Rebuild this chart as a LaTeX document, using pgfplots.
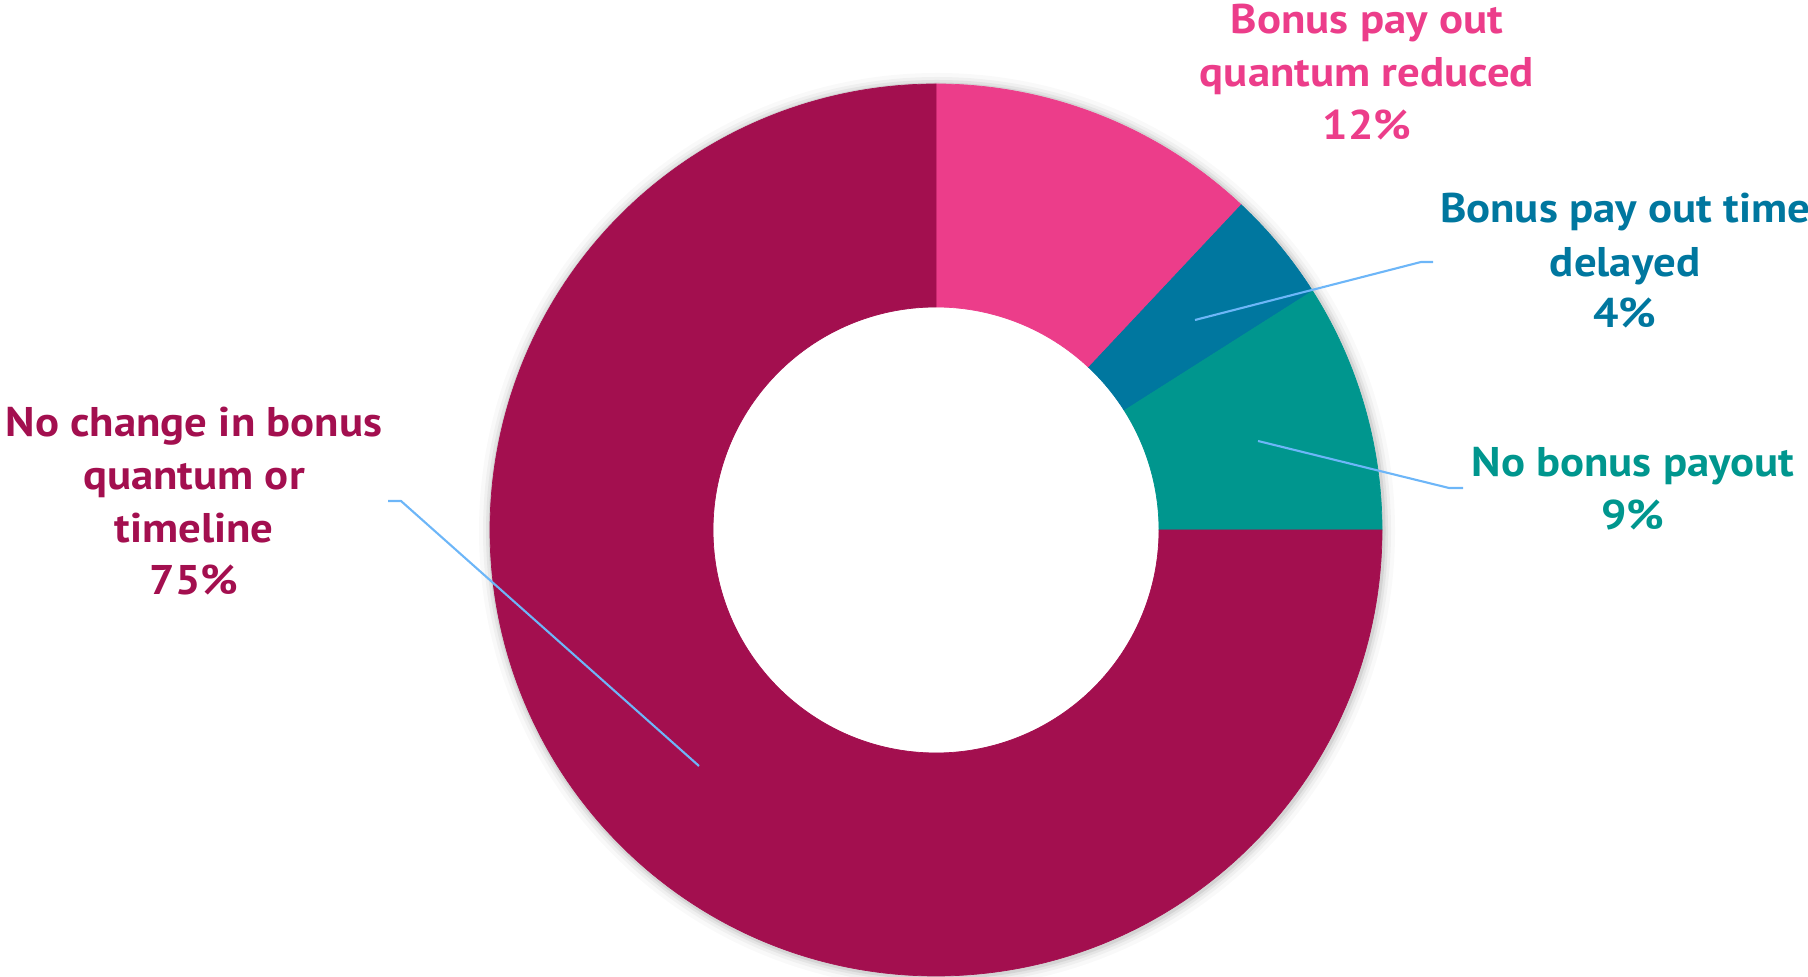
\documentclass[border=0pt]{standalone}
\usepackage{pgfplots}
\pgfplotsset{compat=1.18}
\usepackage{pgfplotstable}
\usepackage{fontspec}
\setmainfont[FakeStretch=1.08]{PT Sans}
\definecolor{cPink}{HTML}{EC3D8A}
\definecolor{cBlue}{HTML}{00779F}
\definecolor{cTeal}{HTML}{00968E}
\definecolor{cMag}{HTML}{A30F4F}
\definecolor{cLead}{HTML}{6DB6F8}
\pgfplotstableread{
value col
12 cPink
4 cBlue
9 cTeal
75 cMag
}\pietable
\begin{document}
\begin{tikzpicture}
\begin{axis}[name=ax, width=18.08cm, height=9.76cm, scale only axis,
  xmin=0, xmax=1808, ymin=0, ymax=976, hide axis, clip=false]
% soft shadow
\fill[black, opacity=0.025] (axis cs:937,445) circle[radius=4.58cm];
\fill[black, opacity=0.035] (axis cs:937,445) circle[radius=4.54cm];
\fill[black, opacity=0.05] (axis cs:937,445) circle[radius=4.51cm];
\fill[black, opacity=0.07] (axis cs:937,445) circle[radius=4.485cm];
\fill[white] (axis cs:936,446) circle[radius=4.46cm];
\def\cum{0}
\pgfplotsforeachungrouped \i in {0,...,3}{%
  \pgfplotstablegetelem{\i}{value}\of\pietable \let\v\pgfplotsretval
  \pgfplotstablegetelem{\i}{col}\of\pietable \let\c\pgfplotsretval
  \pgfmathsetmacro\sa{90-3.6*\cum}%
  \pgfmathsetmacro\ea{90-3.6*(\cum+\v)}%
  \pgfmathsetmacro\cum{\cum+\v}%
  \edef\temp{\noexpand\fill[\c, draw=\c, line width=0.2pt] (axis cs:936,446) ++(\sa:4.46cm) arc[start angle=\sa, end angle=\ea, radius=4.46cm] -- ++(\ea+180:2.23cm) arc[start angle=\ea, end angle=\sa, radius=2.23cm] -- cycle;}%
  \temp
}
% leader lines
\draw[cLead, line width=0.6pt] (axis cs:1195,656) -- (axis cs:1421,714) -- (axis cs:1433,714);
\draw[cLead, line width=0.6pt] (axis cs:1258,535) -- (axis cs:1449,488) -- (axis cs:1463,488);
\draw[cLead, line width=0.6pt] (axis cs:699,210) -- (axis cs:401,475) -- (axis cs:388,475);
% labels
\tikzset{lab/.style={anchor=base, inner sep=0pt, font=\bfseries\fontsize{11.8}{13}\selectfont}}
\node[lab, text=cPink] at (axis cs:1367,942) {Bonus pay out};
\node[lab, text=cPink] at (axis cs:1367,889) {quantum reduced};
\node[lab, text=cPink] at (axis cs:1367,836) {12\%};
\node[lab, text=cBlue] at (axis cs:1625,753) {Bonus pay out time};
\node[lab, text=cBlue] at (axis cs:1625,699) {delayed};
\node[lab, text=cBlue] at (axis cs:1625,648) {4\%};
\node[lab, text=cTeal] at (axis cs:1633,499) {No bonus payout};
\node[lab, text=cTeal] at (axis cs:1633,446) {9\%};
\node[lab, text=cMag] at (axis cs:194,539) {No change in bonus};
\node[lab, text=cMag] at (axis cs:194,486) {quantum or};
\node[lab, text=cMag] at (axis cs:194,433) {timeline};
\node[lab, text=cMag] at (axis cs:194,381) {75\%};
\end{axis}
\pgfresetboundingbox
\path[use as bounding box] (ax.south west) rectangle (ax.north east);
\end{tikzpicture}
\end{document}
